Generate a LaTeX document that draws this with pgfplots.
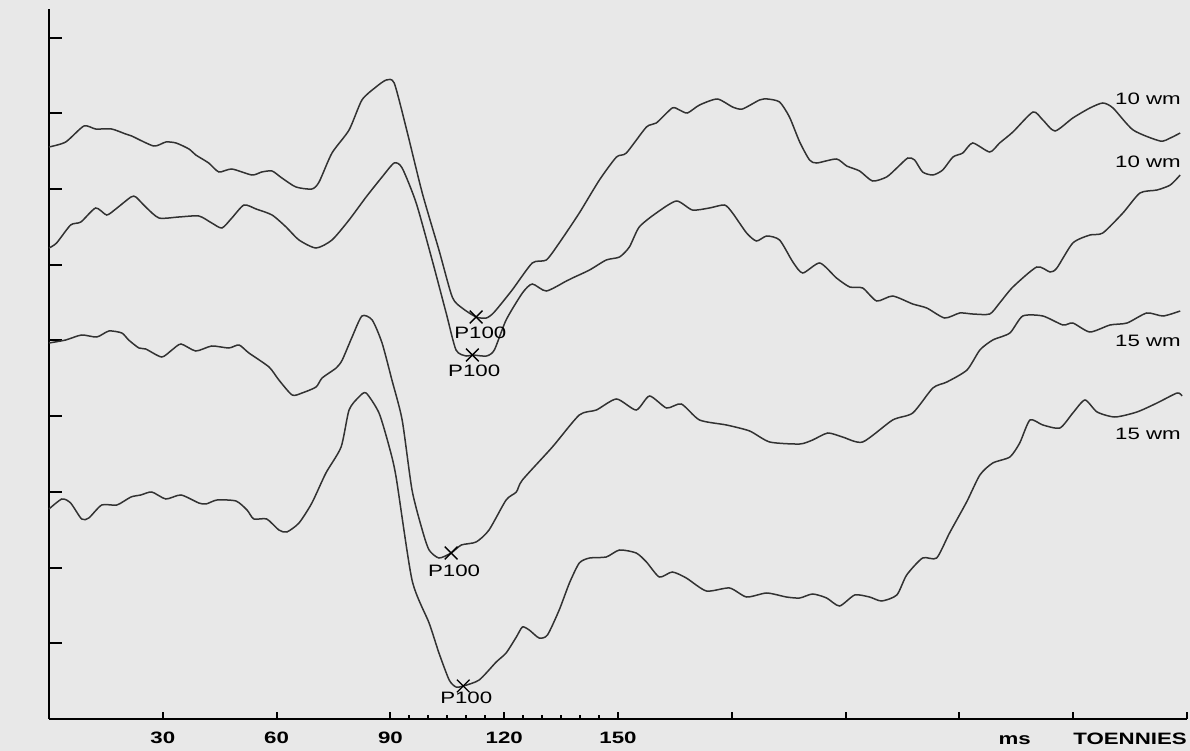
\documentclass[border=0pt]{standalone}
\usepackage{pgfplots}
\pgfplotsset{compat=1.18}
\usepackage{fontspec}
\setmainfont{Liberation Sans}[FakeStretch=1.35]
\definecolor{paper}{RGB}{232,232,232}
\definecolor{trace}{RGB}{50,50,50}
\newcommand{\lab}{\fontsize{16.5bp}{18bp}\selectfont}
\pgfplotsset{tr/.style={trace, line width=1.5bp, smooth, tension=0.4, no markers}}
\begin{document}
\begin{tikzpicture}
\fill[paper] (-49bp,-32bp) rectangle (1141bp,719bp);
\begin{axis}[
  at={(0,0)}, anchor=south west, scale only axis,
  width=1138bp, height=710bp,
  xmin=0, xmax=300, ymin=-719, ymax=-9, clip=false,
  axis lines=left, axis line style={-, line width=2.4bp, black},
  xtick={30,60,...,300}, xticklabels={30,60,90,120,150,{},{},{},{},{}},
  minor xtick={95,100,...,145},
  ytick={-643.3,-567.6,-491.9,-416.2,-340.5,-264.8,-189.1,-113.4,-37.7},
  yticklabels={},
  tick align=inside,
  tick style={black, line width=2bp},
  xtick style={/pgfplots/major tick length=7bp, /pgfplots/minor tick length=4bp},
  ytick style={/pgfplots/major tick length=13bp},
  xticklabel style={font=\lab\bfseries, inner sep=0pt, anchor=north, yshift=-13bp},
]
% Curve A (10 wm, upper)
\addplot[tr] coordinates {
(0,-147)(4.4,-142)(9.2,-126)(12.3,-129)(16.5,-129)(20.2,-134)(21.8,-136)(27.6,-146)
(30.8,-142)(33.5,-143)(36.9,-149)(38.7,-155)(42.1,-163)(44.8,-172)(48.2,-169)(53.5,-175)
(56.1,-172)(58.8,-171)(61.4,-178)(65.1,-187)(69.3,-189)(71.2,-182)(74.6,-153)(79.1,-130)
(82.5,-100)(86.2,-87)(88.9,-80)(91.0,-83)(94.1,-127)(98.4,-193)(102.8,-250)(106.3,-297)
(108.9,-308)(112.6,-317)(115.3,-318)(117.4,-312)(122.1,-290)(127.4,-263)(131.1,-260)
(134.5,-243)(139.8,-213)(145.1,-180)(149.6,-157)(152.2,-153)(157.5,-127)(160.1,-123)
(164.3,-108)(166.2,-110)(168.3,-113)(171.5,-105)(176.2,-99)(180.2,-107)(182.8,-109)
(187.3,-100)(189.4,-99)(192.6,-102)(195.2,-117)(197.9,-142)(200.5,-160)(202.4,-163)
(207.6,-159)(210.3,-166)(213.7,-171)(217.1,-181)(220.8,-177)(223.5,-168)(226.4,-158)
(228.2,-160)(230.3,-172)(233.0,-175)(235.6,-170)(238.3,-157)(240.9,-153)(243.5,-143)
(248.0,-152)(250.6,-143)(254.1,-132)(259.4,-112)(262.0,-120)(265.2,-131)(269.9,-118)
(274.4,-108)(277.8,-103)(280.5,-108)(285.8,-130)(292.9,-141)(295.6,-138)(298.2,-133)
};
% Curve B (10 wm, lower)
\addplot[tr] coordinates {
(0,-248)(2.0,-243)(5.7,-225)(8.4,-222)(12.3,-208)(15.2,-215)(17.6,-209)(21.6,-197)
(22.9,-197)(25.5,-207)(29.0,-218)(34.2,-217)(39.5,-216)(42.9,-223)(45.6,-228)(48.2,-218)
(51.4,-205)(54.6,-209)(58.8,-215)(62.5,-227)(65.9,-240)(70.4,-248)(74.6,-240)(79.1,-220)
(83.6,-197)(87.8,-177)(91.0,-163)(93.1,-168)(96.8,-203)(101.0,-260)(104.7,-313)(107.3,-350)
(110.0,-356)(111.6,-355)(115.3,-356)(117.4,-350)(120.5,-320)(124.8,-293)(127.4,-284)
(131.1,-291)(136.4,-281)(138.0,-278)(142.5,-270)(146.9,-260)(150.4,-257)(153.0,-247)
(155.6,-227)(160.1,-213)(165.4,-201)(169.6,-210)(174.1,-208)(178.1,-205)(180.2,-213)
(183.9,-233)(186.5,-241)(189.2,-236)(192.6,-240)(196.1,-262)(198.7,-273)(203.2,-263)
(207.6,-278)(211.1,-287)(214.5,-288)(218.2,-301)(222.4,-296)(227.7,-304)(231.4,-308)
(236.1,-318)(240.1,-313)(243.5,-314)(248.0,-314)(250.6,-303)(254.1,-287)(260.4,-267)
(263.9,-272)(265.7,-268)(269.9,-243)(274.4,-235)(277.8,-233)(283.1,-213)(287.6,-193)
(292.1,-190)(295.6,-185)(298.2,-175)
};
% Curve C (15 wm, upper)
\addplot[tr] coordinates {
(0,-343)(4.4,-340)(8.6,-335)(12.6,-337)(15.8,-331)(19.2,-333)(21.0,-340)(23.7,-348)
(25.5,-349)(29.7,-357)(32.4,-350)(34.8,-344)(38.7,-351)(42.9,-346)(47.4,-348)(50.1,-345)
(52.7,-353)(58.0,-367)(60.6,-380)(64.1,-395)(66.7,-393)(70.4,-387)(72.0,-378)(75.7,-368)
(77.3,-360)(79.9,-337)(82.5,-316)(85.2,-320)(87.8,-343)(90.4,-380)(93.1,-420)(95.7,-490)
(98.4,-530)(100.2,-550)(102.8,-558)(106.0,-553)(108.7,-545)(112.6,-542)(116.0,-530)
(120.5,-500)(123.2,-492)(124.8,-480)(132.7,-447)(139.8,-415)(144.3,-410)(149.6,-399)
(154.8,-410)(158.3,-396)(162.8,-408)(166.7,-404)(171.5,-420)(178.6,-425)(184.7,-431)
(190.0,-442)(197.9,-444)(201.3,-440)(205.3,-433)(209.2,-437)(214.5,-442)(222.4,-420)
(227.7,-413)(233.0,-388)(236.7,-382)(242.0,-370)(245.4,-350)(248.8,-340)(253.3,-333)
(256.7,-316)(262.0,-316)(267.3,-325)(269.9,-323)(274.4,-332)(279.7,-325)(284.2,-323)
(289.4,-313)(293.7,-316)(298.2,-311)
};
% Curve D (15 wm, lower)
\addplot[tr] coordinates {
(0,-509)(3.4,-499)(5.7,-503)(8.6,-519)(10.5,-518)(13.9,-505)(17.9,-505)(21.6,-497)
(24.2,-495)(27.1,-492)(30.8,-499)(34.8,-495)(39.5,-503)(41.4,-504)(44.3,-500)(49.3,-501)
(52.2,-510)(54.0,-519)(57.4,-519)(60.6,-530)(62.7,-532)(65.9,-523)(69.3,-503)(73.0,-473)
(77.0,-447)(79.1,-410)(81.7,-397)(83.6,-393)(87.0,-413)(89.7,-447)(91.5,-477)(95.7,-580)
(100.2,-623)(102.8,-653)(105.5,-680)(107.3,-687)(109.2,-686)(113.4,-680)(117.9,-662)
(120.5,-653)(123.2,-637)(124.8,-627)(126.6,-630)(129.2,-638)(131.4,-635)(134.5,-610)
(137.2,-583)(139.8,-563)(142.5,-558)(146.9,-557)(150.4,-550)(154.8,-553)(157.5,-562)
(160.9,-577)(164.3,-572)(168.0,-578)(173.3,-591)(179.4,-588)(183.9,-597)(189.2,-593)
(194.4,-597)(197.9,-598)(201.3,-594)(205.0,-598)(208.4,-606)(212.4,-595)(216.3,-597)
(219.5,-601)(223.5,-595)(226.1,-575)(230.3,-558)(234.0,-558)(237.4,-533)(241.9,-502)
(245.4,-475)(248.8,-463)(253.3,-457)(255.9,-443)(258.6,-420)(262.0,-425)(266.5,-428)
(269.9,-413)(273.1,-400)(276.3,-412)(281.0,-417)(286.8,-412)(292.1,-403)(297.4,-393)
(298.7,-396)
};
% P100 markers
\addplot[only marks, mark=x, mark size=9bp, line width=1.3bp, black] coordinates {
(112.6,-317)(111.6,-355)(106.0,-553)(109.2,-686)
};
\node[font=\lab, inner sep=0pt] at (axis cs:113.7,-333) {P100};
\node[font=\lab, inner sep=0pt] at (axis cs:112.1,-371) {P100};
\node[font=\lab, inner sep=0pt] at (axis cs:106.8,-571) {P100};
\node[font=\lab, inner sep=0pt] at (axis cs:110.0,-698) {P100};
\node[font=\lab, inner sep=0pt] at (axis cs:289.7,-99) {10 wm};
\node[font=\lab, inner sep=0pt] at (axis cs:289.7,-162) {10 wm};
\node[font=\lab, inner sep=0pt] at (axis cs:289.7,-341) {15 wm};
\node[font=\lab, inner sep=0pt] at (axis cs:289.7,-434) {15 wm};
\node[font=\lab\bfseries, inner sep=0pt, anchor=base] at (axis cs:254.6,-744) {ms};
\node[font=\lab\bfseries, inner sep=0pt, anchor=base east] at (axis cs:300,-744) {TOENNIES};
\end{axis}
\pgfresetboundingbox
\path[use as bounding box] (-49bp,-32bp) rectangle (1141bp,719bp);
\end{tikzpicture}
\end{document}
